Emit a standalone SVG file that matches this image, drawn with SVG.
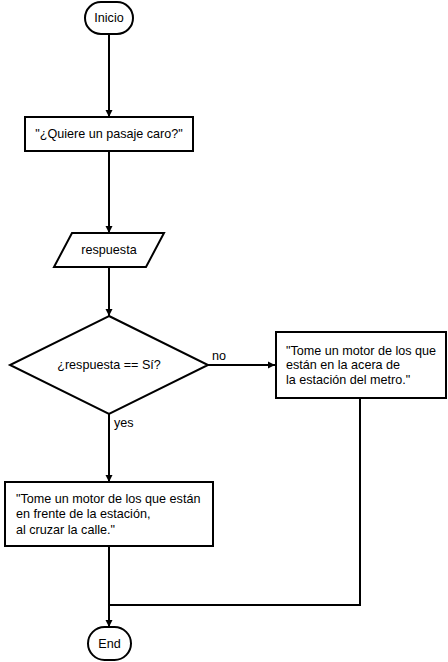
<svg xmlns="http://www.w3.org/2000/svg" width="448" height="662" viewBox="0 0 448 662">
<style>
.n{fill:#fff;stroke:#000;stroke-width:2}
.t{font-family:"Liberation Sans",Arial,sans-serif;font-size:12.6px;fill:#000}
.c{text-anchor:middle;dominant-baseline:central}
.e{fill:none;stroke:#000;stroke-width:2}
</style>
<defs>
<marker id="a" markerWidth="8" markerHeight="8" refX="7" refY="4" orient="auto" markerUnits="userSpaceOnUse">
<path d="M0,0.5 L7,4 L0,7.5 Z" fill="#000"/>
</marker>
</defs>
<rect width="448" height="662" fill="#fff"/>
<g id="connectors">
<path class="e" d="M109,34 V117" marker-end="url(#a)"/>
<path class="e" d="M109,151 V233" marker-end="url(#a)"/>
<path class="e" d="M109,267 V316" marker-end="url(#a)"/>
<path class="e" d="M208,365 H275" marker-end="url(#a)"/>
<path class="e" d="M109,414 V482" marker-end="url(#a)"/>
<path class="e" d="M109,546 V627" marker-end="url(#a)"/>
<path class="e" d="M360,398 V605 H109"/>
<text class="t" x="212" y="360">no</text>
<text class="t" x="114" y="427">yes</text>
</g>
<g id="inicio">
<rect class="n" x="85" y="2" width="48" height="32" rx="16" ry="16"/>
<text class="t c" x="109" y="18">Inicio</text>
</g>
<g id="pregunta">
<rect class="n" x="25" y="117" width="168" height="34"/>
<text class="t c" x="109" y="134">"¿Quiere un pasaje caro?"</text>
</g>
<g id="respuesta">
<polygon class="n" points="72,233 164,233 146,267 54,267"/>
<text class="t c" x="109" y="250">respuesta</text>
</g>
<g id="decision">
<polygon class="n" points="109,316 208,365 109,414 10,365"/>
<text class="t c" x="109" y="365">¿respuesta == Sí?</text>
</g>
<g id="no-box">
<rect class="n" x="276" y="332" width="170" height="66"/>
<text class="t" x="286" y="355">"Tome un motor de los que</text>
<text class="t" x="286" y="369">están en la acera de</text>
<text class="t" x="286" y="384">la estación del metro."</text>
</g>
<g id="yes-box">
<rect class="n" x="5" y="482" width="208" height="64"/>
<text class="t" x="16" y="503">"Tome un motor de los que están</text>
<text class="t" x="16" y="518">en frente de la estación,</text>
<text class="t" x="16" y="534">al cruzar la calle."</text>
</g>
<g id="end">
<rect class="n" x="88" y="627" width="43" height="33" rx="16.5" ry="16.5"/>
<text class="t c" x="109.5" y="644">End</text>
</g>
</svg>
